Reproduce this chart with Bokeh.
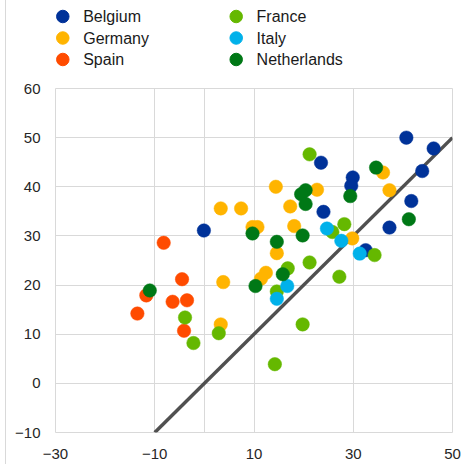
from bokeh.plotting import figure
from bokeh.layouts import column
from bokeh.models import ColumnDataSource, FixedTicker, Range1d
from bokeh.core.properties import value
from bokeh.embed import file_html
from bokeh.resources import INLINE

# ---- data ----
belgium_x = [-0.1, 23.5, 24.0, 29.9, 29.6, 40.7, 46.2, 43.9, 41.7, 37.3, 32.5]
belgium_y = [31.1, 44.9, 34.9, 41.9, 40.2, 50.0, 47.8, 43.2, 37.1, 31.7, 27.1]

germany_x = [3.3, 7.4, 14.4, 17.3, 22.7, 9.7, 10.7, 18.1, 14.6, 12.4, 11.4, 3.8, 3.3, 36.0, 37.3, 29.8]
germany_y = [35.6, 35.6, 40.0, 36.0, 39.4, 31.8, 31.8, 32.0, 26.5, 22.5, 21.3, 20.6, 12.0, 42.9, 39.3, 29.5]

spain_x = [-8.2, -4.5, -11.7, -6.4, -3.5, -13.5, -4.1]
spain_y = [28.6, 21.2, 17.9, 16.6, 16.9, 14.2, 10.7]

france_x = [-3.9, -2.2, 2.9, 21.2, 28.2, 25.8, 34.3, 27.2, 21.2, 16.8, 14.6, 19.8, 14.2]
france_y = [13.4, 8.2, 10.2, 46.6, 32.4, 30.8, 26.1, 21.7, 24.6, 23.4, 18.7, 12.0, 3.9]

italy_x = [24.7, 27.6, 31.3, 16.7, 14.6]
italy_y = [31.5, 29.0, 26.4, 19.8, 17.2]

netherlands_x = [-11.0, 9.7, 14.6, 19.8, 20.4, 19.5, 20.4, 34.6, 29.4, 41.2, 10.3, 15.8]
netherlands_y = [18.9, 30.5, 28.8, 30.1, 39.3, 38.5, 36.5, 43.9, 38.1, 33.4, 19.8, 22.2]

diag_x = [-10, 50]
diag_y = [-10, 50]

x_ticks = [-30, -10, 10, 30, 50]
x_grid = [-10, 0, 10, 30]
y_ticks = [-10, 0, 10, 20, 30, 40, 50, 60]

series_names = ["Belgium", "Germany", "Spain", "France", "Italy", "Netherlands"]
series_colors = ["#003299", "#FFB400", "#FF4B00", "#65B800", "#00B1EA", "#007816"]
series_x = [belgium_x, germany_x, spain_x, france_x, italy_x, netherlands_x]
series_y = [belgium_y, germany_y, spain_y, france_y, italy_y, netherlands_y]

FONT = "Liberation Sans"
W = 465
LEG_H = 76
FRAME_H = 344
BL, BR, FW = 49, 19, 397

# ---------------- legend strip ----------------
leg = figure(width=W, height=LEG_H, output_backend="svg", toolbar_location=None,
             x_range=Range1d(BL, BL + FW), y_range=Range1d(LEG_H, 0),
             frame_width=FW, frame_height=LEG_H,
             min_border_left=BL, min_border_right=BR, min_border_top=0, min_border_bottom=0)
leg.axis.visible = False
leg.grid.visible = False
leg.outline_line_color = None

ROWS = 3
COL_STEP, ROW_STEP = 173.4, 21.5
X0, Y0, TXT_OFF = 56.3, 16.0, 20.4
n = len(series_names)
lx = [X0 + (i // ROWS) * COL_STEP for i in range(n)]
ly = [Y0 + (i % ROWS) * ROW_STEP for i in range(n)]
leg_src = ColumnDataSource(dict(x=lx, y=ly, tx=[v + TXT_OFF for v in lx],
                                label=series_names, color=series_colors))
leg.scatter("x", "y", source=leg_src, size=12.5, fill_color="color", line_color="color")
leg.text("tx", "y", text="label", source=leg_src, text_font=value(FONT),
         text_font_size="16px", text_color="#1a1a1a",
         text_align="left", text_baseline="middle")

# ---------------- main scatter ----------------
p = figure(width=W, height=464 - LEG_H, output_backend="svg", toolbar_location=None,
           x_range=Range1d(-30, 50), y_range=Range1d(-10, 60),
           frame_width=FW, frame_height=FRAME_H,
           min_border_left=BL, min_border_right=BR, min_border_top=88 - LEG_H,
           min_border_bottom=32)

p.background_fill_color = "white"
p.border_fill_color = "white"
p.outline_line_color = "#d9d9d9"
p.outline_line_width = 1

p.xaxis.ticker = FixedTicker(ticks=x_ticks)
p.yaxis.ticker = FixedTicker(ticks=y_ticks)
for ax in (p.xaxis[0], p.yaxis[0]):
    ax.axis_line_color = None
    ax.major_tick_line_color = None
    ax.minor_tick_line_color = None
    ax.major_tick_out = 0
    ax.major_tick_in = 0
    ax.major_label_text_font = FONT
    ax.major_label_text_font_size = "15px"
    ax.major_label_text_color = "#262626"
p.xaxis.major_label_standoff = 16
p.yaxis.major_label_standoff = 15

p.xgrid.ticker = FixedTicker(ticks=x_grid)
p.ygrid.ticker = FixedTicker(ticks=y_ticks)
p.xgrid.grid_line_color = "#d9d9d9"
p.ygrid.grid_line_color = "#d9d9d9"

# 45-degree line
p.line(diag_x, diag_y, line_color="#505050", line_width=3.5)

for xs, ys, col in zip(series_x, series_y, series_colors):
    src = ColumnDataSource(dict(x=xs, y=ys))
    p.scatter("x", "y", source=src, size=13.5, fill_color=col, line_color=col, line_width=0.5)

layout = column(leg, p, spacing=0,
                styles={"border-left": "1px solid #d9d9d9", "margin-left": "5px"})

open("out.html", "w").write(file_html(layout, INLINE))
